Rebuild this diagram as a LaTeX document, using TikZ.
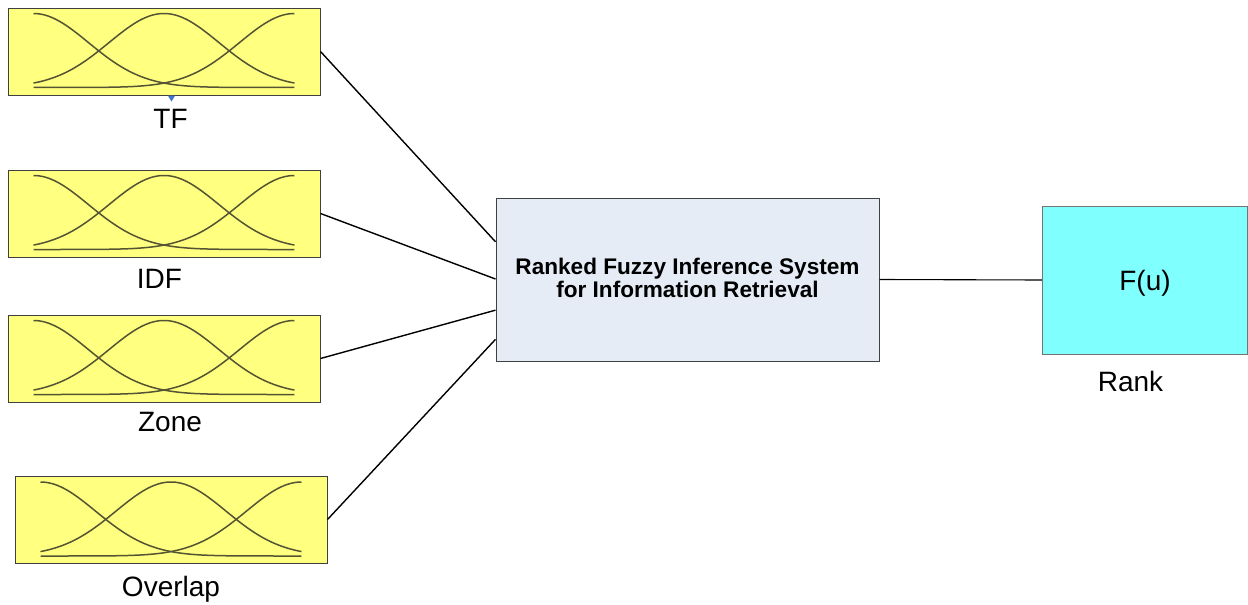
\documentclass[tikz,border=0pt]{standalone}
\usepackage{fontspec}
\setmainfont{Liberation Sans}
\usetikzlibrary{calc}

\definecolor{mfyellow}{RGB}{255,255,128}
\definecolor{mfcurve}{RGB}{84,84,52}
\definecolor{sysfill}{RGB}{230,236,246}
\definecolor{outcyan}{RGB}{128,255,255}
\definecolor{marker}{RGB}{68,114,196}

\tikzset{
  inputbox/.style={draw=black!75, line width=1pt, fill=mfyellow, inner sep=0pt,
    minimum width=312pt, minimum height=87pt},
  sysbox/.style={draw=black!75, line width=1pt, fill=sysfill, inner sep=0pt,
    minimum width=383pt, minimum height=163pt},
  outbox/.style={draw=black!55, line width=1pt, fill=outcyan, inner sep=0pt,
    minimum width=205pt, minimum height=148pt,
    font=\fontsize{28}{33}\selectfont, text height=20pt, text depth=0pt},
  lbl/.style={anchor=base, inner sep=0pt, font=\fontsize{28}{33}\selectfont},
  mf/.style={draw=mfcurve, line width=1.5pt},
  wire/.style={draw=black, line width=1.4pt},
  % three Gaussian membership functions on a shared universe
  mfs/.pic={
    \draw[mf] plot[domain=0:4.745, samples=90] ({55*\x},{-74*exp(-0.5*\x*\x)});
    \draw[mf] plot[domain=0:4.745, samples=90] ({55*\x},{-74*exp(-0.5*(\x-2.3727)*(\x-2.3727))});
    \draw[mf] plot[domain=0:4.745, samples=90] ({55*\x},{-74*exp(-0.5*(\x-4.745)*(\x-4.745))});
  }
}

\begin{document}
\begin{tikzpicture}[x=1pt, y=-1pt]
\useasboundingbox (0,0) rectangle (1248,605);

% input variables
\node[inputbox] (tf)  at (164,51.5)  {};
\node[inputbox] (idf) at (164,213.5) {};
\node[inputbox] (zone) at (164,358.5) {};
\node[inputbox] (ovl) at (171,519.5) {};

\pic at ($(tf.south west)+(26,-8)$) {mfs};
\pic at ($(idf.south west)+(26,-8)$) {mfs};
\pic at ($(zone.south west)+(26,-8)$) {mfs};
\pic at ($(ovl.south west)+(26,-7.5)$) {mfs};

\node[lbl] (tflbl)   at (170.5,128)   {TF};
\node[lbl] (idflbl)  at (159.5,288)   {IDF};
\node[lbl] (zonelbl) at (170,431.7)   {Zone};
\node[lbl] (ovllbl)  at (171,596.7)   {Overlap};

% selection marker under the first input
\fill[marker] (167.8,95.5) -- (175.2,95.5) -- (171.5,101.5) -- cycle;

% inference system
\node[sysbox] (sys) at (687.5,279.5) {};
\node[anchor=base, align=center, inner sep=0pt,
      font=\fontsize{22.6}{23.4}\selectfont\bfseries] (systxt) at (687.5,297.7)
  {Ranked Fuzzy Inference System\\for Information Retrieval};

% output
\node[outbox] (out) at (1145,280) {F(u)};
\node[lbl] (outlbl) at (1130.5,391.7) {Rank};

% connections
\coordinate (in1) at ($(sys.north west)!0.27!(sys.south west)$);
\coordinate (in2) at ($(sys.north west)!0.497!(sys.south west)$);
\coordinate (in3) at ($(sys.north west)!0.687!(sys.south west)$);
\coordinate (in4) at ($(sys.north west)!0.865!(sys.south west)$);

\draw[wire] (tf.east) -- (in1);
\draw[wire] (idf.east) -- (in2);
\draw[wire] (zone.east) -- (in3);
\draw[wire] (ovl.east) -- (in4);
\draw[wire, line width=1.1pt] (sys.east) -- (out.west);
\end{tikzpicture}
\end{document}
